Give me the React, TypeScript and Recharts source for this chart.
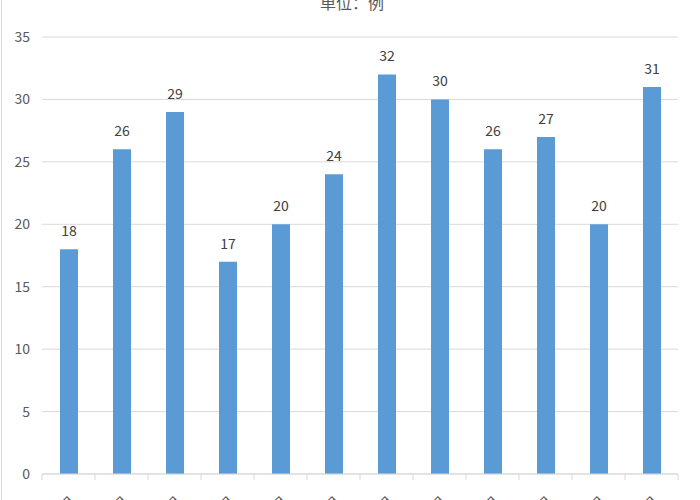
import React from "react";
import { BarChart, Bar, XAxis, YAxis, CartesianGrid, LabelList } from "recharts";

const categories = ["1月", "2月", "3月", "4月", "5月", "6月", "7月", "8月", "9月", "10月", "11月", "12月"];
const cases = [18, 26, 29, 17, 20, 24, 32, 30, 26, 27, 20, 31];
const yTicks = [0, 5, 10, 15, 20, 25, 30, 35];

const data = categories.map((name, i) => ({ name, value: cases[i] }));

const WIDTH = 700;
const HEIGHT = 500;
const MARGIN = { top: 37, right: 22, left: 0, bottom: 0 };
const Y_AXIS_WIDTH = 42;
const BAND = (WIDTH - MARGIN.left - MARGIN.right - Y_AXIS_WIDTH) / categories.length;
const AXIS_Y = HEIGHT - 26;
const FONT = "'Noto Sans CJK SC', 'Open Sans', sans-serif";

if (typeof document !== "undefined") document.body.style.margin = "0";

function CategoryTick(props: any) {
  const { x, payload, index } = props;
  const left = x - BAND / 2;
  const tx = x + 8;
  const ty = AXIS_Y + 28;
  return (
    <g>
      <line x1={left} y1={AXIS_Y} x2={left} y2={AXIS_Y + 6} stroke="#d9d9d9" />
      {index === categories.length - 1 && (
        <line x1={x + BAND / 2} y1={AXIS_Y} x2={x + BAND / 2} y2={AXIS_Y + 6} stroke="#d9d9d9" />
      )}
      <text
        x={tx}
        y={ty}
        transform={`rotate(-45 ${tx} ${ty})`}
        textAnchor="end"
        fontSize={14}
        fill="#595959"
        fontFamily={FONT}
      >
        {payload.value}
      </text>
    </g>
  );
}

export default function App() {
  return (
    <div
      style={{
        position: "relative",
        width: WIDTH,
        height: HEIGHT,
        overflow: "hidden",
        background: "#fff",
        boxSizing: "border-box",
        borderLeft: "1px solid #d9d9d9",
        marginLeft: 1,
      }}
    >
      <div
        style={{
          position: "absolute",
          top: -10,
          width: WIDTH,
          textAlign: "center",
          fontFamily: FONT,
          fontSize: 16,
          color: "#595959",
        }}
      >
        单位：例
      </div>
      <BarChart width={WIDTH} height={HEIGHT} data={data} margin={MARGIN} style={{ marginLeft: -2 }}>
        <CartesianGrid vertical={false} stroke="#d9d9d9" />
        <XAxis
          dataKey="name"
          axisLine={{ stroke: "#d9d9d9" }}
          tickLine={false}
          interval={0}
          height={26}
          tick={<CategoryTick />}
        />
        <YAxis
          width={Y_AXIS_WIDTH}
          domain={[0, 35]}
          ticks={yTicks}
          axisLine={false}
          tickLine={false}
          tickMargin={6}
          tick={{ fontSize: 14, fill: "#595959", fontFamily: FONT }}
        />
        <Bar dataKey="value" fill="#5b9bd5" barSize={18} isAnimationActive={false}>
          <LabelList dataKey="value" position="top" offset={13} fontSize={14} fill="#404040" fontFamily={FONT} />
        </Bar>
      </BarChart>
    </div>
  );
}
